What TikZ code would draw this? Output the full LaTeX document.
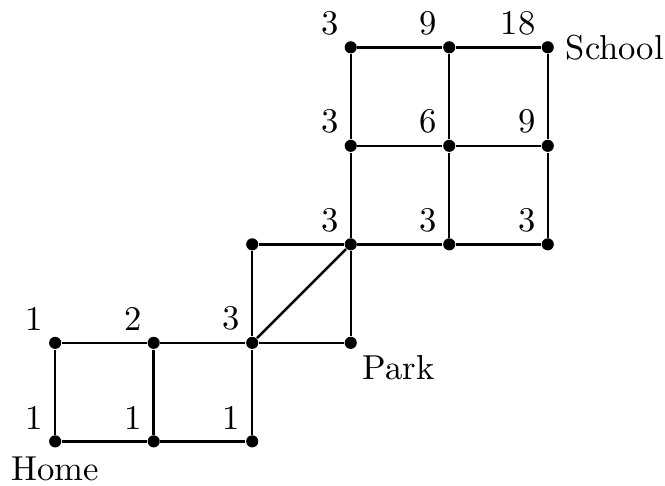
\documentclass[tikz,border=0pt]{standalone}
\usetikzlibrary{positioning}
\begin{document}
\begin{tikzpicture}[scale=1,
    dot/.style={circle, fill=black, inner sep=0pt, minimum size=3.5pt},
    num/.style={anchor=south east},
    road/.style={line width=0.7pt, black}]
    \useasboundingbox (-0.56,-0.45) rectangle (6.19,4.48);

    % intersections
    \node[dot] (v00) at (0,0) {};
    \node[dot] (v10) at (1,0) {};
    \node[dot] (v20) at (2,0) {};
    \node[dot] (v01) at (0,1) {};
    \node[dot] (v11) at (1,1) {};
    \node[dot] (v21) at (2,1) {};
    \node[dot] (v31) at (3,1) {};
    \node[dot] (v22) at (2,2) {};
    \node[dot] (v32) at (3,2) {};
    \node[dot] (v42) at (4,2) {};
    \node[dot] (v52) at (5,2) {};
    \node[dot] (v33) at (3,3) {};
    \node[dot] (v43) at (4,3) {};
    \node[dot] (v53) at (5,3) {};
    \node[dot] (v34) at (3,4) {};
    \node[dot] (v44) at (4,4) {};
    \node[dot] (v54) at (5,4) {};

    % number of shortest routes
    \node[num] (n00) at (v00.center) {1};
    \node[num] (n10) at (v10.center) {1};
    \node[num] (n20) at (v20.center) {1};
    \node[num] (n01) at (v01.center) {1};
    \node[num] (n11) at (v11.center) {2};
    \node[num] (n21) at (v21.center) {3};
    \node[num] (n32) at (v32.center) {3};
    \node[num] (n42) at (v42.center) {3};
    \node[num] (n52) at (v52.center) {3};
    \node[num] (n33) at (v33.center) {3};
    \node[num] (n43) at (v43.center) {6};
    \node[num] (n53) at (v53.center) {9};
    \node[num] (n34) at (v34.center) {3};
    \node[num] (n44) at (v44.center) {9};
    \node[num] (n54) at (v54.center) {18};

    \node[anchor=north, yshift=-1pt] (home) at (v00.center) {Home};
    \node[anchor=north west] (park) at (v31.center) {Park};
    \node[anchor=west, inner sep=5pt] (school) at (v54.center) {School};

    % roads
    \draw[road] (v00) -- (v10) -- (v20);
    \draw[road] (v01) -- (v11) -- (v21) -- (v31);
    \draw[road] (v00) -- (v01);
    \draw[road] (v10) -- (v11);
    \draw[road] (v20) -- (v21) -- (v22) -- (v32) -- (v31);
    \draw[road] (v21) -- (v32);
    \draw[road] (v32) -- (v42) -- (v52);
    \draw[road] (v33) -- (v43) -- (v53);
    \draw[road] (v34) -- (v44) -- (v54);
    \draw[road] (v32) -- (v33) -- (v34);
    \draw[road] (v42) -- (v43) -- (v44);
    \draw[road] (v52) -- (v53) -- (v54);
\end{tikzpicture}
\end{document}
